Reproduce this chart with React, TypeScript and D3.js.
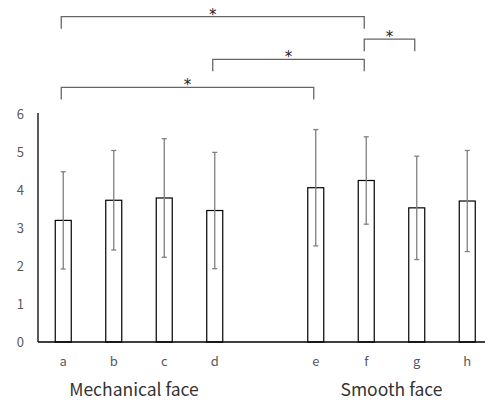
import React, { useEffect, useRef } from 'react';
import * as d3 from 'd3';

// Data
const categories = ['a', 'b', 'c', 'd', 'e', 'f', 'g', 'h'];
const means = [3.2, 3.73, 3.79, 3.46, 4.06, 4.25, 3.53, 3.71];
const sds = [1.28, 1.31, 1.56, 1.53, 1.53, 1.15, 1.36, 1.33];
const groupNames = ['Mechanical face', 'Smooth face'];
const groupMembers = [['a', 'b', 'c', 'd'], ['e', 'f', 'g', 'h']];
const yTicks = [0, 1, 2, 3, 4, 5, 6];

// significance brackets: from, to, level (in y units)
const bracketFrom = ['a', 'f', 'd', 'a'];
const bracketTo = ['f', 'g', 'f', 'e'];
const bracketLevel = [8.56, 7.97, 7.44, 6.7];

const App = () => {
  const svgRef = useRef<SVGSVGElement>(null);

  useEffect(() => {
    const width = 485;
    const height = 405;
    const margin = { left: 38, top: 114, bottom: 342 };

    d3.select(svgRef.current).selectAll('*').remove();
    const svg = d3.select(svgRef.current).attr('width', width).attr('height', height);

    const font = "'Noto Sans CJK JP', 'Noto Sans', sans-serif";

    // slots with an empty gap between the two groups
    const slots = ['a', 'b', 'c', 'd', 'gap', 'e', 'f', 'g', 'h'];
    const x = d3.scaleBand<string>().domain(slots).range([margin.left, margin.left + 9 * 50.5]);
    const cx = (k: string) => (x(k) as number) + x.bandwidth() / 2;
    const barW = 16;

    const y = d3.scaleLinear().domain([0, 6]).range([margin.bottom, margin.top]);

    // Y tick labels
    svg
      .append('g')
      .selectAll('text')
      .data(yTicks)
      .enter()
      .append('text')
      .attr('x', 24)
      .attr('y', (d) => y(d) + 5)
      .attr('text-anchor', 'end')
      .attr('font-family', font)
      .attr('font-size', 13)
      .attr('fill', '#595959')
      .text((d) => d);

    // Bars
    svg
      .append('g')
      .selectAll('rect')
      .data(categories)
      .enter()
      .append('rect')
      .attr('x', (d) => cx(d) - barW / 2)
      .attr('y', (d, i) => y(means[i]))
      .attr('width', barW)
      .attr('height', (d, i) => y(0) - y(means[i]))
      .attr('fill', 'white')
      .attr('stroke', '#000')
      .attr('stroke-width', 1.2);

    // Error bars
    const eb = svg.append('g').attr('stroke', '#7f7f7f').attr('stroke-width', 1.3);
    categories.forEach((c, i) => {
      const top = y(means[i] + sds[i]);
      const bot = y(means[i] - sds[i]);
      const px = cx(c);
      eb.append('line').attr('x1', px).attr('x2', px).attr('y1', top).attr('y2', bot);
      eb.append('line').attr('x1', px - 2.5).attr('x2', px + 2.5).attr('y1', top).attr('y2', top);
      eb.append('line').attr('x1', px - 2.5).attr('x2', px + 2.5).attr('y1', bot).attr('y2', bot);
    });

    // Axes lines
    svg
      .append('line')
      .attr('x1', margin.left)
      .attr('x2', margin.left)
      .attr('y1', y(6) - 1)
      .attr('y2', y(0))
      .attr('stroke', '#000')
      .attr('stroke-width', 1.3);
    svg
      .append('line')
      .attr('x1', margin.left)
      .attr('x2', width)
      .attr('y1', y(0))
      .attr('y2', y(0))
      .attr('stroke', '#000')
      .attr('stroke-width', 1.3);

    // X category labels
    svg
      .append('g')
      .selectAll('text')
      .data(categories)
      .enter()
      .append('text')
      .attr('x', (d) => cx(d))
      .attr('y', 366)
      .attr('text-anchor', 'middle')
      .attr('font-family', font)
      .attr('font-size', 13)
      .attr('fill', '#595959')
      .text((d) => d);

    // Group labels
    groupNames.forEach((g, i) => {
      const mem = groupMembers[i];
      const mid = (cx(mem[0]) + cx(mem[mem.length - 1])) / 2;
      svg
        .append('text')
        .attr('x', i === 0 ? mid - 5 : mid)
        .attr('y', 396)
        .attr('text-anchor', 'middle')
        .attr('font-family', font)
        .attr('font-size', 17.5)
        .attr('fill', '#333')
        .text(g);
    });

    // Significance brackets
    bracketFrom.forEach((f, i) => {
      const x1 = cx(f) - 2;
      const x2 = cx(bracketTo[i]) - 2;
      const ly = y(bracketLevel[i]);
      svg
        .append('path')
        .attr('d', `M${x1},${ly + 12}V${ly}H${x2}V${ly + 12}`)
        .attr('fill', 'none')
        .attr('stroke', '#666')
        .attr('stroke-width', 1.3);
      svg
        .append('text')
        .attr('x', (x1 + x2) / 2)
        .attr('y', ly + 3)
        .attr('text-anchor', 'middle')
        .attr('font-family', "'DejaVu Sans', sans-serif")
        .attr('font-size', 15)
        .attr('fill', '#222')
        .text('*');
    });
  }, []);

  return (
    <div style={{ position: 'absolute', left: 0, top: 0 }}>
      <svg ref={svgRef} style={{ display: 'block' }}></svg>
    </div>
  );
};

export default App;
